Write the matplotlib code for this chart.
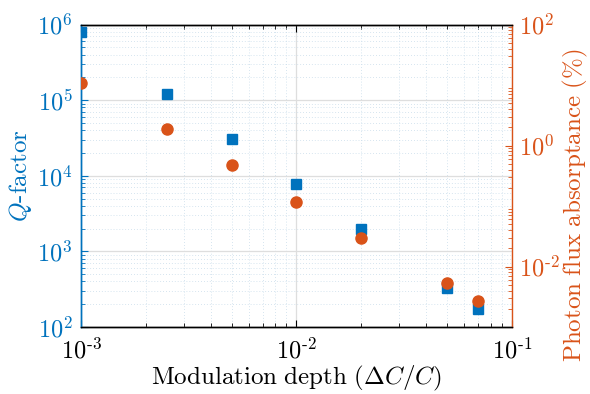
import matplotlib
matplotlib.use("Agg")
import matplotlib.pyplot as plt
from matplotlib.ticker import LogLocator, NullFormatter

plt.rcParams['mathtext.fontset'] = 'cm'
plt.rcParams['font.family'] = ['DejaVu Serif']

depth = [1e-3, 2.5e-3, 5e-3, 1e-2, 2e-2, 5e-2, 7e-2]
q_factor = [8.0e5, 1.2e5, 3.1e4, 7.8e3, 1.96e3, 330, 171]
absorptance = [10.8, 1.87, 0.48, 0.116, 0.030, 0.0054, 0.0027]

x_ticks = [1e-3, 1e-2, 1e-1]
x_labels = [r'$10^{\text{-}3}$', r'$10^{\text{-}2}$', r'$10^{\text{-}1}$']
q_ticks = [1e2, 1e3, 1e4, 1e5, 1e6]
q_labels = [r'$10^{2}$', r'$10^{3}$', r'$10^{4}$', r'$10^{5}$', r'$10^{6}$']
a_ticks = [1e-2, 1e0, 1e2]
a_labels = [r'$10^{\text{-}2}$', r'$10^{0}$', r'$10^{2}$']

blue = '#0072BD'
orange = '#D95319'

fig = plt.figure(figsize=(5.9, 3.94), dpi=100)
ax = fig.add_axes([81/590, 1-327/394, (511.7-81)/590, (327-24.5)/394])
ax2 = ax.twinx()

ax.set_xscale('log')
ax.set_yscale('log')
ax2.set_yscale('log')
ax.set_xlim(1e-3, 1e-1)
ax.set_ylim(1e2, 1e6)
ax2.set_ylim(1e-3, 1e2)

ax.plot(depth, q_factor, 's', color=blue, markersize=7.5, zorder=3)
ax2.plot(depth, absorptance, 'o', color=orange, markersize=8, zorder=3)

for a in (ax, ax2):
    a.xaxis.set_minor_locator(LogLocator(base=10, subs=range(2, 10), numticks=20))
    a.yaxis.set_minor_locator(LogLocator(base=10, subs=range(2, 10), numticks=20))
    a.yaxis.set_minor_formatter(NullFormatter())

ax.grid(True, which='major', color='#dedede', linewidth=0.9, linestyle='-')
ax.grid(True, which='minor', color='#c8dcea', linewidth=0.6, linestyle=(0, (1, 2.5)))
ax.set_axisbelow(True)

ax.set_xticks(x_ticks)
ax.set_xticklabels(x_labels)
ax.set_yticks(q_ticks)
ax.set_yticklabels(q_labels)
ax2.set_yticks(a_ticks)
ax2.set_yticklabels(a_labels)

ax.tick_params(axis='both', which='both', direction='in', top=True)
ax.tick_params(axis='x', which='major', length=5, labelsize=17.5, pad=8, colors='black')
ax.tick_params(axis='x', which='minor', length=3)
ax.tick_params(axis='y', which='major', length=5, labelsize=17.5, pad=6, colors=blue)
ax.tick_params(axis='y', which='minor', length=3, colors=blue)
ax2.tick_params(axis='y', which='both', direction='in', colors=orange)
ax2.tick_params(axis='y', which='major', length=5, labelsize=17.5, pad=5)
ax2.tick_params(axis='y', which='minor', length=3)

ax.spines['left'].set_color(blue)
ax2.spines['left'].set_color(blue)
ax2.spines['right'].set_color(orange)
ax.spines['right'].set_visible(False)
for s in ax.spines.values():
    s.set_linewidth(1.0)
for s in ax2.spines.values():
    s.set_linewidth(1.0)

ax.set_xlabel(r'$\mathrm{Modulation\ depth\ }(\Delta C/C)$', fontsize=18, labelpad=0)
ax.set_ylabel(r'$Q\mathrm{\text{-}factor}$', fontsize=18, color=blue, labelpad=2)
ax2.set_ylabel(r'$\mathrm{Photon\ flux\ absorptance\ (\%)}$', fontsize=18, color=orange)
ax2.yaxis.set_label_coords((561 - 81) / 430.7, (327 - 205) / 302.5)

fig.savefig('out.png', dpi=100)
